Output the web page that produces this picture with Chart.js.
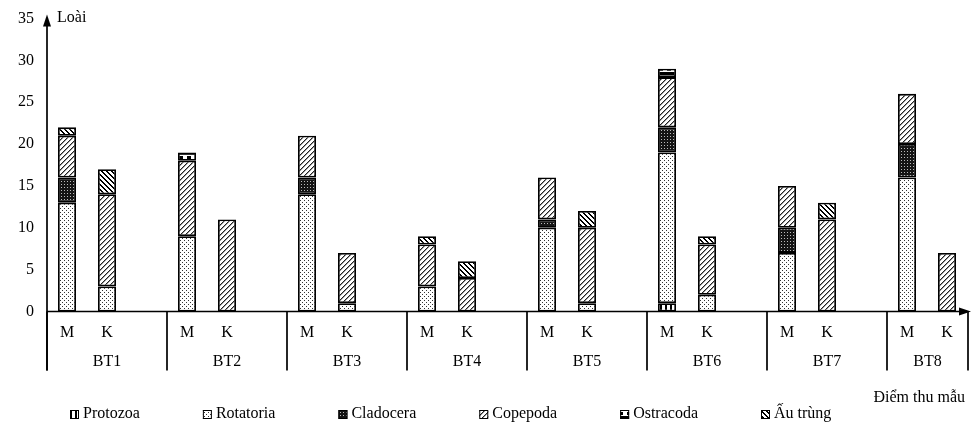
<!DOCTYPE html>
<html lang="vi">
<head>
<meta charset="utf-8">
<title>Thành phần loài động vật nổi</title>
<script src="https://cdn.jsdelivr.net/npm/chart.js@4/dist/chart.umd.min.js"></script>
<style>
  html, body { margin: 0; padding: 0; background: #fff; }
</style>
</head>
<body>
<canvas id="speciesChart" width="978" height="436"></canvas>
<script>
/* ================================================
   DATA — số loài theo điểm thu mẫu, [M, K]
================================================ */
const stations   = ['BT1','BT2','BT3','BT4','BT5','BT6','BT7','BT8'];
const seasons    = ['M','K'];
const groupNames = ['Protozoa','Rotatoria','Cladocera','Copepoda','Ostracoda','Ấu trùng'];

const protozoa  = [[0,0],[0,0],[0,0],[0,0],[0,0],[1,0],[0,0],[0,0]];
const rotatoria = [[13,3],[9,0],[14,1],[3,0],[10,1],[18,2],[7,0],[16,0]];
const cladocera = [[3,0],[0,0],[2,0],[0,0],[1,0],[3,0],[3,0],[4,0]];
const copepoda  = [[5,11],[9,11],[5,6],[5,4],[5,9],[6,6],[5,11],[6,7]];
const ostracoda = [[0,0],[1,0],[0,0],[0,0],[0,0],[1,0],[0,0],[0,0]];
const auTrung   = [[1,3],[0,0],[0,0],[1,2],[0,2],[0,1],[0,2],[0,0]];

const yMax  = 35;
const yStep = 5;

const FONT = 'Liberation Serif';

/* ================================================
   PATTERNS
================================================ */
function makePattern(size, paint) {
  const c = document.createElement('canvas');
  c.width = c.height = size;
  const g = c.getContext('2d');
  g.fillStyle = '#fff';
  g.fillRect(0, 0, size, size);
  paint(g, size);
  return document.createElement('canvas').getContext('2d').createPattern(c, 'repeat');
}

const patterns = [
  // Protozoa — vertical stripes
  makePattern(5, g => { g.fillStyle = '#000'; g.fillRect(0, 0, 2, 5); }),
  // Rotatoria — light dots
  makePattern(4, g => { g.fillStyle = '#333'; g.fillRect(0, 0, 1, 1); g.fillRect(2, 2, 1, 1); }),
  // Cladocera — dark grid
  makePattern(3, g => {
    g.fillStyle = '#151515'; g.fillRect(0, 0, 3, 3);
    g.fillStyle = '#bbb'; g.fillRect(1, 1, 1, 1);
  }),
  // Copepoda — forward diagonals
  makePattern(5, g => {
    for (let k = 0; k < 5; k++) {
      g.fillStyle = '#222'; g.fillRect(k, 4 - k, 1, 1);
      g.fillStyle = '#999'; g.fillRect((k + 1) % 5, 4 - k, 1, 1);
    }
  }),
  // Ostracoda — black and white blocks
  makePattern(8, g => {
    g.fillStyle = '#000'; g.fillRect(0, 0, 8, 3); g.fillRect(3, 4, 4, 3);
  }),
  // Ấu trùng — thick back diagonals
  makePattern(5, g => {
    g.fillStyle = '#000';
    for (let k = 0; k < 5; k++) for (let w = 0; w < 2; w++) g.fillRect((k + w) % 5, k, 1, 1);
  }),
];

/* ================================================
   BUILD SLOTS (M, K, gap, M, K, gap, …)
================================================ */
const series = [protozoa, rotatoria, cladocera, copepoda, ostracoda, auTrung];

const labels = [];
stations.forEach((s, i) => {
  seasons.forEach(m => labels.push(m));
  if (i < stations.length - 1) labels.push('');
});

function toSlots(values) {
  const out = [];
  values.forEach((pair, i) => {
    pair.forEach(v => out.push(v === 0 ? null : v));
    if (i < values.length - 1) out.push(null);
  });
  return out;
}

/* ================================================
   DECORATION PLUGIN — axes, groups, legend
================================================ */
const decorPlugin = {
  id: 'decor',
  afterDraw(chart) {
    const { ctx, chartArea: a, scales: { x } } = chart;
    const slot = x.getPixelForValue(1) - x.getPixelForValue(0);
    const base = a.bottom;
    const sepBottom = base + 59;

    ctx.save();
    ctx.strokeStyle = '#000';
    ctx.fillStyle = '#000';
    ctx.lineWidth = 1.7;

    // y axis + arrow
    ctx.beginPath();
    ctx.moveTo(a.left, sepBottom);
    ctx.lineTo(a.left, a.top + 4);
    ctx.stroke();
    ctx.beginPath();
    ctx.moveTo(a.left, a.top - 4);
    ctx.lineTo(a.left - 4, a.top + 8);
    ctx.lineTo(a.left + 4, a.top + 8);
    ctx.closePath();
    ctx.fill();

    // x axis + arrow
    ctx.beginPath();
    ctx.moveTo(a.left, base);
    ctx.lineTo(a.right, base);
    ctx.stroke();
    ctx.beginPath();
    ctx.moveTo(a.right + 4, base);
    ctx.lineTo(a.right - 8, base - 4);
    ctx.lineTo(a.right - 8, base + 4);
    ctx.closePath();
    ctx.fill();

    // group separators + station labels
    const edges = [a.left];
    stations.forEach((s, i) => {
      edges.push(i < stations.length - 1 ? x.getPixelForValue(3 * (i + 1)) - slot / 2 : a.right + 1);
    });
    ctx.beginPath();
    edges.forEach(ex => { ctx.moveTo(ex, base); ctx.lineTo(ex, sepBottom); });
    ctx.stroke();

    ctx.font = `16px "${FONT}"`;
    ctx.textAlign = 'center';
    ctx.textBaseline = 'middle';
    stations.forEach((s, i) => ctx.fillText(s, (edges[i] + edges[i + 1]) / 2, base + 50));

    // axis titles
    ctx.textAlign = 'left';
    ctx.fillText('Loài', a.left + 10, a.top - 1);
    ctx.textAlign = 'right';
    ctx.fillText('Điểm thu mẫu', a.right - 2, 398);

    // legend
    let lx = 70;
    const ly = 414;
    ctx.textAlign = 'left';
    ctx.lineWidth = 1;
    chart.data.datasets.forEach(ds => {
      ctx.fillStyle = ds.backgroundColor;
      ctx.fillRect(lx, ly - 4, 9, 9);
      ctx.strokeRect(lx + 0.5, ly - 3.5, 8, 8);
      ctx.fillStyle = '#000';
      ctx.fillText(ds.label, lx + 13, ly);
      lx += 13 + ctx.measureText(ds.label).width + 63;
    });
    ctx.restore();
  },
};

/* ================================================
   CHART
================================================ */
function buildSpeciesChart() {
  const ctx = document.getElementById('speciesChart');

  new Chart(ctx, {
    type: 'bar',
    data: {
      labels,
      datasets: series.map((vals, i) => ({
        label: groupNames[i],
        data: toSlots(vals),
        backgroundColor: patterns[i],
        borderColor: '#000',
        borderWidth: 1.8,
        borderSkipped: false,
        barPercentage: 0.45,
        categoryPercentage: 1,
      })),
    },
    options: {
      responsive: false,
      animation: false,
      devicePixelRatio: 1,
      layout: { padding: { top: 18.5, right: 11, left: 0, bottom: 0 } },
      plugins: {
        legend: { display: false },
        tooltip: { enabled: false },
      },
      scales: {
        x: {
          stacked: true,
          grid: { display: false, drawTicks: false },
          border: { display: false },
          ticks: {
            color: '#000',
            font: { family: FONT, size: 16 },
            padding: 12,
            autoSkip: false,
            maxRotation: 0,
          },
          afterFit: s => { s.height = 124.5; },
        },
        y: {
          stacked: true,
          min: 0,
          max: yMax,
          grid: { display: false, drawTicks: false },
          border: { display: false },
          ticks: {
            stepSize: yStep,
            color: '#000',
            font: { family: FONT, size: 16 },
            padding: 13,
          },
          afterFit: s => { s.width = 47; s.paddingTop = 0; s.paddingBottom = 0; },
        },
      },
    },
    plugins: [decorPlugin],
  });
}

document.addEventListener('DOMContentLoaded', buildSpeciesChart);
</script>
</body>
</html>
